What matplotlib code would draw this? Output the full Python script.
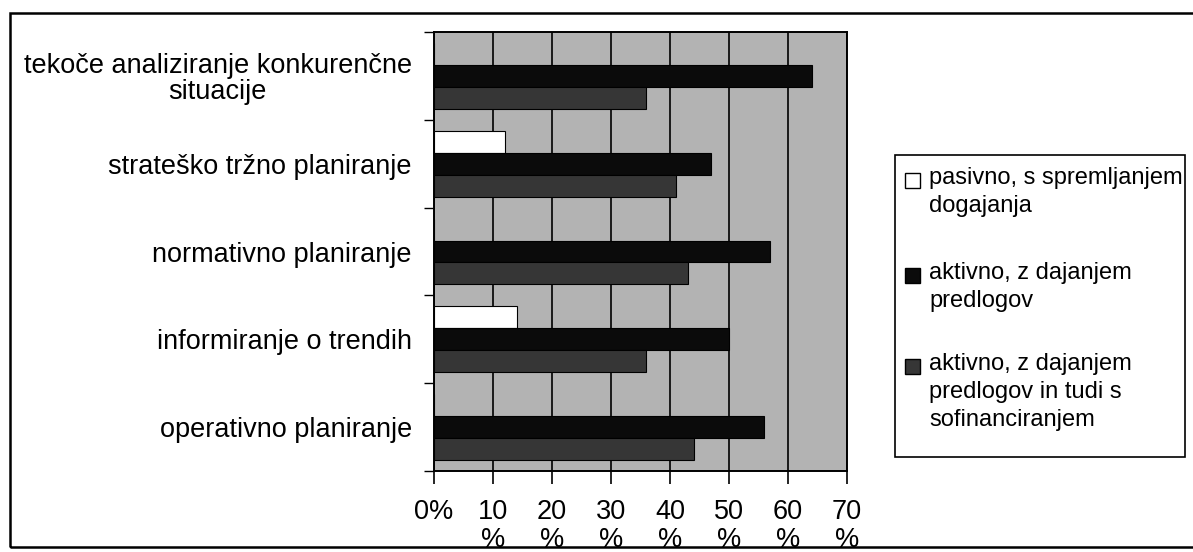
import numpy as np
import matplotlib.pyplot as plt
from matplotlib.patches import Rectangle

plt.rcParams['font.family'] = ['Liberation Sans', 'DejaVu Sans']

# categories, top to bottom
categories = ['tekoče analiziranje konkurenčne\nsituacije',
              'strateško tržno planiranje',
              'normativno planiranje',
              'informiranje o trendih',
              'operativno planiranje']

# values in %
pasivno = [0, 12, 0, 14, 0]
aktivno = [64, 47, 57, 50, 56]
sofinanciranje = [36, 41, 43, 36, 44]

series_labels = ['pasivno, s spremljanjem\ndogajanja',
                 'aktivno, z dajanjem\npredlogov',
                 'aktivno, z dajanjem\npredlogov in tudi s\nsofinanciranjem']
series_colors = ['white', '#0b0b0b', '#363636']
tick_values = [0, 10, 20, 30, 40, 50, 60, 70]
tick_labels = ['0%'] + ['%d\n%%' % v for v in tick_values[1:]]

W, H = 1193, 552
fig = plt.figure(figsize=(W / 100, H / 100), dpi=100)
ax = fig.add_axes([434 / W, 1 - 471 / H, (847 - 434) / W, (471 - 32) / H])

y = np.arange(len(categories))
h = 0.25
for k, vals in enumerate([pasivno, aktivno, sofinanciranje]):
    ax.barh(y + (k - 1) * h, vals, height=h, color=series_colors[k],
            edgecolor='black', linewidth=0.8, zorder=3)

ax.set_facecolor('#b3b3b3')
ax.set_xlim(0, 70)
ax.set_ylim(len(categories) - 0.5, -0.5)

ax.set_xticks(tick_values)
ax.set_xticklabels(tick_labels, fontsize=19.5, linespacing=1.12, va='top')
ax.tick_params(axis='x', length=9, width=1.2, pad=11, direction='out')
ax.xaxis.grid(True, color='black', linewidth=1.2, zorder=1)
ax.set_axisbelow(True)

ax.set_yticks(y)
ax.set_yticklabels(categories, fontsize=19.5, multialignment='center', linespacing=1.0)
ax.tick_params(axis='y', length=0, pad=16)
ax.set_yticks(np.arange(len(categories) + 1) - 0.5, minor=True)
ax.tick_params(axis='y', which='minor', length=7, width=1.0)

for s in ax.spines.values():
    s.set_linewidth(1.4)
    s.set_color('black')

# legend box drawn by hand so the swatch sits on the first text line
fig.patches.append(Rectangle((895 / W, 1 - 457 / H), (1185 - 895) / W, (457 - 155) / H,
                             transform=fig.transFigure, facecolor='white',
                             edgecolor='black', linewidth=1.2))
first_line_y = [180, 275, 366]
for k, lab in enumerate(series_labels):
    yc = first_line_y[k]
    fig.patches.append(Rectangle((905 / W, 1 - (yc + 8) / H), 15 / W, 15 / H,
                                 transform=fig.transFigure, facecolor=series_colors[k],
                                 edgecolor='black', linewidth=1.0))
    fig.text(929 / W, 1 - (yc - 13) / H, lab, fontsize=17, va='top', ha='left',
             linespacing=1.35)

# outer chart frame (right side runs off the picture)
fig.patches.append(Rectangle((10 / W, 1 - 547 / H), 1.2, (547 - 13) / H,
                             transform=fig.transFigure, fill=False,
                             edgecolor='black', linewidth=1.8))

fig.savefig('out.png', dpi=100)
